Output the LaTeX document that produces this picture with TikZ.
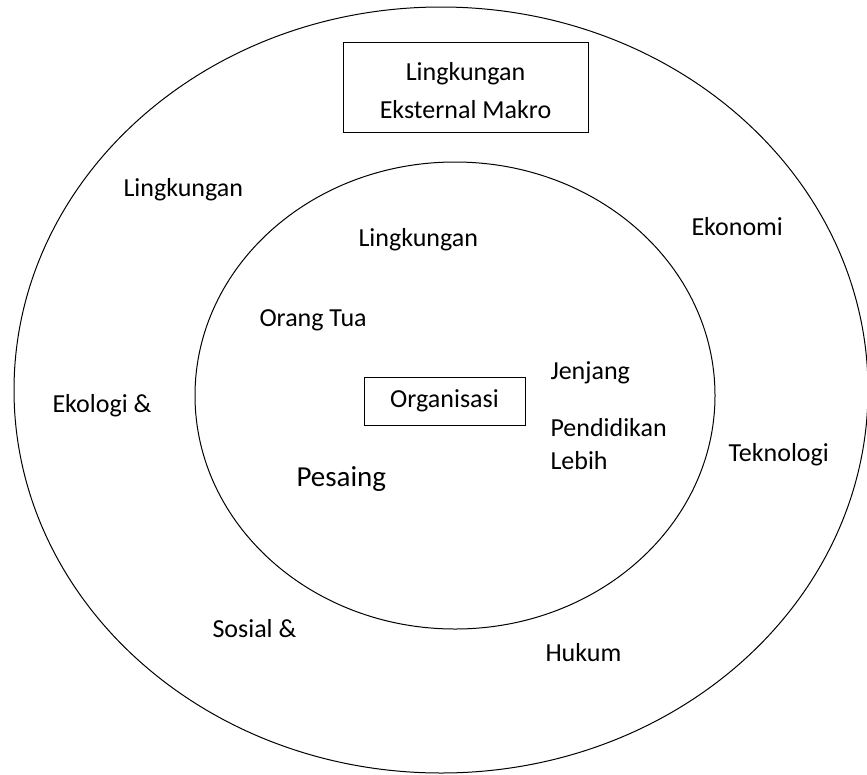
\documentclass[tikz,border=0pt]{standalone}
\usepackage{fontspec}
\setmainfont{Carlito}
\usetikzlibrary{positioning}

\begin{document}
\begin{tikzpicture}[x=1pt,y=-1pt,line width=1pt,
    every node/.style={font=\fontsize{26}{38}\selectfont, inner sep=0pt},
    lbl/.style={anchor=west, text height=17pt, text depth=5pt},
    kotak/.style={draw, minimum width=#1}]
    \useasboundingbox (0,0) rectangle (867,774);

    % lingkaran luar dan dalam
    \draw (441,390) ellipse (427 and 383);
    \draw (455,395.5) ellipse (260 and 233.5);

    \node (makro) [kotak=245pt, minimum height=90pt, align=center] at (465.5,87) {\rule{0pt}{25pt}Lingkungan\\Eksternal Makro};
    \node (org) [kotak=161pt, minimum height=48pt, text height=17pt, text depth=5pt] at (444.5,401) {Organisasi};

    \node (ling1) [lbl] at (123,190) {Lingkungan};
    \node (ling2) [lbl] at (358,240) {Lingkungan};
    \node (eko) [lbl] at (691,229) {Ekonomi};
    \node (ortu) [lbl] at (259,320) {Orang Tua};
    \node (jen) [lbl] at (550,373) {Jenjang};
    \node (ekol) [lbl] at (52,406) {Ekologi \&};
    \node (pend) [lbl] at (550,430) {Pendidikan};
    \node (leb) [lbl, below=10pt of pend.south west, anchor=north west] {Lebih};
    \node (tek) [lbl] at (728,455) {Teknologi};
    \node (pes) [lbl, font=\fontsize{29}{35}\selectfont] at (296,480) {Pesaing};
    \node (sos) [lbl] at (212,631) {Sosial \&};
    \node (huk) [lbl] at (545,655) {Hukum};
\end{tikzpicture}
\end{document}
